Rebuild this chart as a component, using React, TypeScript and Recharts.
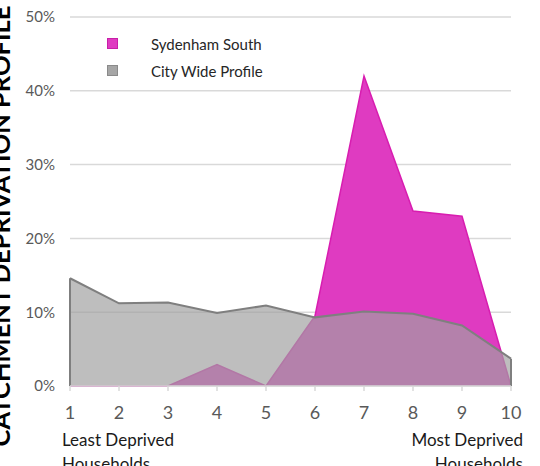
import { AreaChart, Area, XAxis, YAxis, CartesianGrid, ReferenceLine } from 'recharts';

// deciles 1 (least deprived) .. 10 (most deprived), share of households in %
const DECILE = [1, 2, 3, 4, 5, 6, 7, 8, 9, 10];
const SYDENHAM = [0, 0, 0, 2.9, 0, 9.5, 42, 23.7, 23, 0];
const CITY_WIDE = [14.6, 11.2, 11.3, 9.9, 10.9, 9.3, 10.1, 9.8, 8.2, 3.7];
const Y_TICKS = [0, 10, 20, 30, 40, 50];

const PINK = '#df3bc1';
const GRAU = '#a1a1a1';
const SCHRIFT = 'Lato, "Open Sans", sans-serif';

const daten = DECILE.map((d, i) => ({ decile: d, sydenham: SYDENHAM[i], city: CITY_WIDE[i] }));

const LEGENDE = [
  { name: 'Sydenham South', farbe: PINK, rand: '#c81fa8' },
  { name: 'City Wide Profile', farbe: '#a6a6a6', rand: '#8a8a8a' },
];

function Legende() {
  return (
    <div
      style={{
        position: 'absolute',
        left: 107,
        top: 30,
        fontFamily: SCHRIFT,
        fontSize: 15,
        color: '#262626',
      }}
    >
      {LEGENDE.map((e) => (
        <div key={e.name} style={{ display: 'flex', alignItems: 'center', height: 27 }}>
          <span
            style={{
              width: 9,
              height: 9,
              background: e.farbe,
              border: `1px solid ${e.rand}`,
              marginRight: 33,
              display: 'inline-block',
            }}
          />
          {e.name}
        </div>
      ))}
    </div>
  );
}

function TitelLabel() {
  return (
    <text
      x={10}
      y={226}
      transform="rotate(-90 10 226)"
      textAnchor="middle"
      fontFamily={SCHRIFT}
      fontWeight="bold"
      fontSize={24}
      fill="#000"
      textLength={441}
      lengthAdjust="spacingAndGlyphs"
    >
      CATCHMENT DEPRIVATION PROFILE
    </text>
  );
}

export default function App() {
  const erster = DECILE[0];
  const letzter = DECILE[DECILE.length - 1];
  const unterschrift = {
    position: 'absolute' as const,
    top: 428,
    fontFamily: SCHRIFT,
    fontSize: 17,
    lineHeight: '24px',
    color: '#1a1a1a',
  };
  return (
    <div style={{ position: 'absolute', left: 0, top: 0, width: 540, height: 466, background: '#fff', overflow: 'hidden' }}>
      <AreaChart width={540} height={466} data={daten} margin={{ top: 17, right: 29, bottom: 50, left: 0 }}>
        <CartesianGrid vertical={false} stroke="#d9d9d9" strokeWidth={1.5} />
        <XAxis
          dataKey="decile"
          type="number"
          domain={[erster, letzter]}
          ticks={DECILE}
          tick={{ fontSize: 18, fill: '#595959', fontFamily: SCHRIFT }}
          stroke="#d9d9d9"
          strokeWidth={1.5}
          tickSize={5}
          tickMargin={15}
        />
        <YAxis
          domain={[0, 50]}
          ticks={Y_TICKS}
          width={70}
          tickFormatter={(v) => `${v}%`}
          tick={{ fontSize: 15, fill: '#595959', fontFamily: SCHRIFT }}
          axisLine={false}
          tickLine={false}
          tickSize={6}
          tickMargin={9}
          label={<TitelLabel />}
        />
        <Area
          type="linear"
          dataKey="sydenham"
          name="Sydenham South"
          stroke="#d81db0"
          strokeWidth={1.5}
          fill={PINK}
          fillOpacity={1}
          isAnimationActive={false}
        />
        <Area
          type="linear"
          dataKey="city"
          name="City Wide Profile"
          stroke="#7f7f7f"
          strokeWidth={2}
          fill={GRAU}
          fillOpacity={0.69}
          isAnimationActive={false}
        />
        <ReferenceLine
          segment={[{ x: erster, y: 0 }, { x: erster, y: CITY_WIDE[0] }]}
          stroke="#7f7f7f"
          strokeWidth={2}
        />
        <ReferenceLine
          segment={[{ x: letzter, y: 0 }, { x: letzter, y: CITY_WIDE[CITY_WIDE.length - 1] }]}
          stroke="#7f7f7f"
          strokeWidth={2}
        />
      </AreaChart>
      <Legende />
      <div style={{ ...unterschrift, left: 62 }}>
        Least Deprived
        <br />
        Households
      </div>
      <div style={{ ...unterschrift, right: 17, textAlign: 'right' }}>
        Most Deprived
        <br />
        Households
      </div>
    </div>
  );
}
